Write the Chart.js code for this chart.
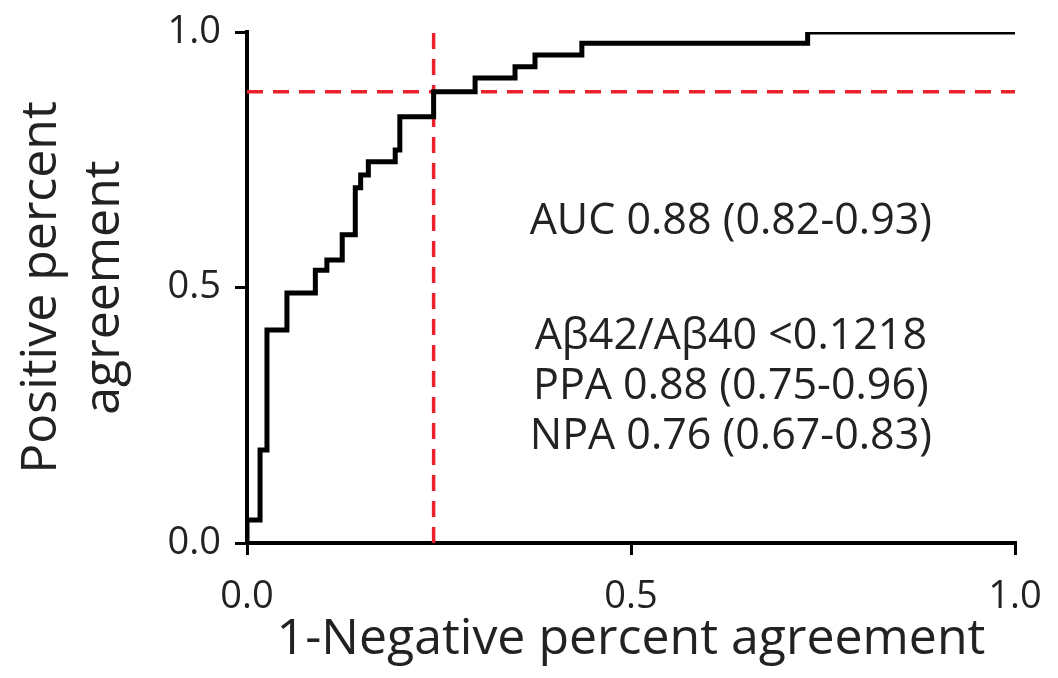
<!DOCTYPE html>
<html>
<head>
<meta charset="utf-8">
<script src="https://cdn.jsdelivr.net/npm/chart.js@4"></script>
<style>
  html, body { margin: 0; padding: 0; background: #fff; }
</style>
</head>
<body>
<canvas id="roc" width="1058" height="678"></canvas>
<script>
// ROC step curve corners
const fpr = [0, 0, 0.017, 0.026, 0.052, 0.089, 0.104, 0.124, 0.141, 0.148, 0.158, 0.193, 0.199, 0.243, 0.297, 0.349, 0.375, 0.436, 0.730, 1.0];
const tpr = [0, 0.045, 0.182, 0.417, 0.489, 0.534, 0.554, 0.603, 0.695, 0.720, 0.746, 0.769, 0.834, 0.883, 0.910, 0.932, 0.955, 0.978, 1.0, 1.0];
// cut-off point (1-NPA, PPA)
const cutX = 0.243;
const cutY = 0.883;
const xTicks = [0, 0.5, 1];
const yTicks = [0, 0.5, 1];
const noteLines = ["AUC 0.88 (0.82-0.93)", "Aβ42/Aβ40 <0.1218", "PPA 0.88 (0.75-0.96)", "NPA 0.76 (0.67-0.83)"];

const FONT = "'Open Sans', 'DejaVu Sans', sans-serif";
const red = "#e8212b";

const notes = {
  id: "notes",
  afterDatasetsDraw(chart) {
    const { ctx, scales: { x, y } } = chart;
    const rows = [0.628, 0.403, 0.305, 0.207];
    ctx.save();
    ctx.font = "43px " + FONT;
    ctx.fillStyle = "#222";
    ctx.textAlign = "center";
    ctx.textBaseline = "middle";
    const cx = x.getPixelForValue(0.63);
    noteLines.forEach((t, i) => ctx.fillText(t, cx, y.getPixelForValue(rows[i])));
    ctx.restore();
  },
};

new Chart(document.getElementById("roc"), {
  type: "line",
  data: {
    datasets: [
      {
        data: fpr.map((v, i) => ({ x: v, y: tpr[i] })),
        borderColor: "#000",
        borderWidth: 5,
        stepped: "before",
        pointRadius: 0,
        fill: false,
        clip: 0,
      },
      {
        data: [{ x: cutX, y: 0 }, { x: cutX, y: 1 }],
        borderColor: red,
        borderWidth: 3.5,
        borderDash: [16, 10],
        pointRadius: 0,
      },
      {
        data: [{ x: 0, y: cutY }, { x: 1, y: cutY }],
        borderColor: red,
        borderWidth: 3.5,
        borderDash: [16, 10],
        pointRadius: 0,
      },
    ],
  },
  options: {
    responsive: false,
    animation: false,
    layout: { padding: { left: 0, top: 32, right: 43, bottom: 0 } },
    plugins: { legend: { display: false }, tooltip: { enabled: false } },
    scales: {
      x: {
        type: "linear",
        min: 0,
        max: 1,
        afterBuildTicks: (s) => { s.ticks = xTicks.map((v) => ({ value: v })); },
        afterFit: (s) => { s.height = 135; s.paddingLeft = 0; s.paddingRight = 0; },
        ticks: {
          callback: (v) => v.toFixed(1),
          font: { family: FONT, size: 38 },
          color: "#222",
          padding: 19,
          maxRotation: 0,
        },
        grid: { drawOnChartArea: false, tickLength: 12, lineWidth: 3, color: "#000" },
        border: { color: "#000", width: 4 },
        title: {
          display: true,
          text: "1-Negative percent agreement",
          font: { family: FONT, size: 50, lineHeight: 1.2 },
          color: "#222",
          padding: { top: 0, bottom: 8 },
        },
      },
      y: {
        min: 0,
        max: 1,
        afterBuildTicks: (s) => { s.ticks = yTicks.map((v) => ({ value: v })); },
        afterFit: (s) => { s.width = 247; s.paddingTop = 0; s.paddingBottom = 0; },
        ticks: {
          callback: (v) => v.toFixed(1),
          font: { family: FONT, size: 38 },
          color: "#222",
          padding: 14,
        },
        grid: { drawOnChartArea: false, tickLength: 12, lineWidth: 3, color: "#000" },
        border: { color: "#000", width: 4 },
        title: {
          display: true,
          text: ["Positive percent", "agreement"],
          font: { family: FONT, size: 50, lineHeight: 1.26 },
          color: "#222",
          padding: { top: 10, bottom: 0 },
        },
      },
    },
  },
  plugins: [notes],
});
</script>
</body>
</html>
